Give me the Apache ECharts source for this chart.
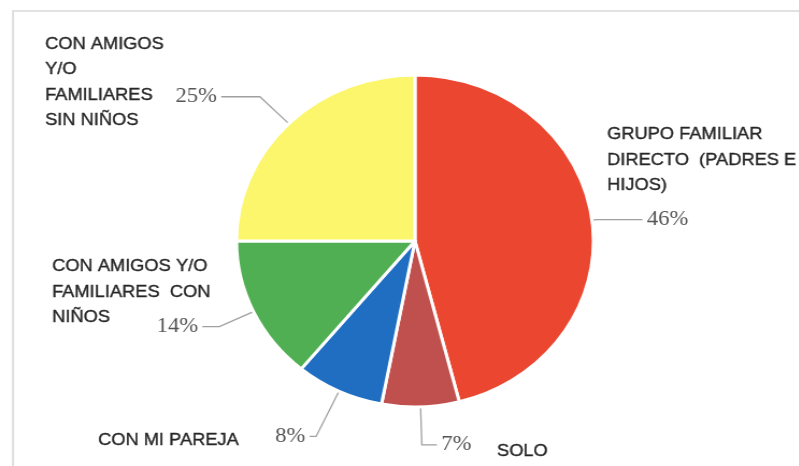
<!DOCTYPE html>
<html>
<head>
<meta charset="utf-8">
<script src="https://cdn.jsdelivr.net/npm/echarts@6/dist/echarts.min.js"></script>
<style>
  html, body { margin: 0; padding: 0; background: #ffffff; overflow: hidden; }
  #wrap { width: 799px; height: 466px; overflow: hidden; position: relative; }
  /* the chart is laid out on a narrower canvas and widened, which makes the pie an ellipse */
  #chart { width: 743px; height: 466px; transform: scaleX(1.075); transform-origin: 0 0; }
</style>
</head>
<body>
<div id="wrap"><div id="chart"></div></div>
<script>
// Who people go with (share of respondents, %)
const categories = [
  'GRUPO FAMILIAR\nDIRECTO  (PADRES E\nHIJOS)',
  'SOLO',
  'CON MI PAREJA',
  'CON AMIGOS Y/O\nFAMILIARES  CON\nNIÑOS',
  'CON AMIGOS\nY/O\nFAMILIARES\nSIN NIÑOS'
];
const shares = [46, 7, 8, 14, 25];

// slice colours, same order as categories
const sliceColors = ['#EB4630', '#C0504D', '#1F6EC2', '#50AF53', '#FBF66B'];

// leader line lengths for each slice label
const leaderLengths = [[5, 42], [38, 14], [50, 6], [35, 16], [38, 36]];

// where each category name block sits (canvas coordinates, before widening)
const nameAnchors = [[564.7, 122], [462.3, 439], [91.2, 428], [48.4, 254], [41.9, 31.5]];

const chart = echarts.init(document.getElementById('chart'), null, { renderer: 'canvas' });

const pieData = shares.map((v, i) => ({
  name: categories[i],
  value: v,
  itemStyle: { color: sliceColors[i] },
  labelLine: { length: leaderLengths[i][0], length2: leaderLengths[i][1] }
}));

const nameTexts = categories.map((c, i) => ({
  type: 'text',
  x: nameAnchors[i][0],
  y: nameAnchors[i][1],
  silent: true,
  style: {
    text: c,
    fill: '#262626',
    stroke: '#262626',
    lineWidth: 0.35,
    font: '17px "Liberation Sans", Arial, sans-serif',
    lineHeight: 25.5,
    textAlign: 'left',
    verticalAlign: 'top'
  }
}));

chart.setOption({
  animation: false,
  backgroundColor: '#ffffff',
  graphic: [
    {
      type: 'rect',
      silent: true,
      shape: { x: 12.1, y: 11, width: 800, height: 500 },
      style: { fill: 'none', stroke: '#d9d9d9', lineWidth: 1.6 }
    }
  ].concat(nameTexts),
  series: [{
    type: 'pie',
    center: [386, 241],
    radius: [0, 166],
    startAngle: 90,
    clockwise: true,
    avoidLabelOverlap: false,
    emphasis: { disabled: true },
    itemStyle: { borderColor: '#ffffff', borderWidth: 3 },
    label: {
      show: true,
      position: 'outside',
      alignTo: 'none',
      distanceToLabelLine: 4,
      formatter: '{c}%',
      fontFamily: '"Liberation Serif", "Times New Roman", serif',
      fontSize: 21,
      color: '#555555'
    },
    labelLine: {
      show: true,
      smooth: false,
      lineStyle: { color: '#a0a0a0', width: 1.3 }
    },
    data: pieData
  }]
});
</script>
</body>
</html>
